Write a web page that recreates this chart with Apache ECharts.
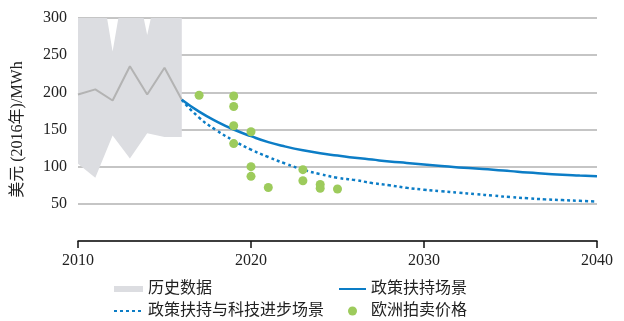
<!DOCTYPE html>
<html>
<head>
<meta charset="utf-8">
<script src="https://cdn.jsdelivr.net/npm/echarts@6/dist/echarts.min.js"></script>
<style>
  html, body { margin: 0; padding: 0; background: #fff; }
  #chart { width: 624px; height: 321px; }
</style>
</head>
<body>
<div id="chart"></div>
<script>
// Historical range (low / high) and the historical average line, 2010–2016
const histYears = [2010, 2011, 2012, 2013, 2014, 2015, 2016];
const histLow   = [104, 85, 142, 111, 145, 140, 140];
const histHigh  = [380, 395, 255, 390, 277, 385, 380];
const histMid   = [197, 204, 189, 235, 197, 233, 190];

// Scenario projections, 2016–2040
const projYears = [2016, 2017, 2018, 2019, 2020, 2021, 2022, 2023, 2024, 2025, 2026, 2027, 2028,
                   2029, 2030, 2031, 2032, 2033, 2034, 2035, 2036, 2037, 2038, 2039, 2040];
const policyOnly = [190, 174, 161, 150, 141, 133, 127, 122, 118, 115, 112, 109.5, 107,
                    105, 103, 101, 99, 97.5, 96, 94, 92, 90.5, 89, 88, 87];
const policyTech = [190, 166, 149, 135, 123, 113, 104, 96, 90, 85, 82, 78, 75,
                    71.5, 69, 67, 65, 63, 61, 59, 57.5, 56, 55, 54, 53];

// European auction results [year, price]
const auctionYears  = [2017, 2019, 2019, 2019, 2020, 2019, 2020, 2020, 2021, 2023, 2023, 2024, 2024, 2025];
const auctionPrices = [196, 195, 181, 155, 147, 131, 100, 87, 72, 96, 81, 76, 71, 70];

const yTicks = [0, 50, 100, 150, 200, 250, 300];

const names = {
  hist: '历史数据',
  policy: '政策扶持场景',
  tech: '政策扶持与科技进步场景',
  auction: '欧洲拍卖价格'
};

const zip = (xs, ys) => xs.map((x, i) => [x, ys[i]]);

const FONT = "'Liberation Serif', 'Noto Sans CJK SC', serif";
const BLUE = '#0c7dc6';
const GRAY_BAND = '#dcdde1';
const GREEN = '#9dcb5c';

// Band rows: [year, low, high]
const bandRows = histYears.map((y, i) => [y, histLow[i], histHigh[i]]);

function renderBand(params, api) {
  if (params.dataIndex !== 0) return null;
  const upper = bandRows.map(r => api.coord([r[0], r[2]]));
  const lower = bandRows.slice().reverse().map(r => api.coord([r[0], r[1]]));
  const cs = params.coordSys;
  return {
    type: 'polygon',
    shape: { points: upper.concat(lower) },
    style: { fill: GRAY_BAND, stroke: null },
    clipPath: {
      type: 'rect',
      shape: { x: cs.x, y: cs.y, width: cs.width, height: cs.height }
    }
  };
}

const chart = echarts.init(document.getElementById('chart'), null, { renderer: 'canvas' });

chart.setOption({
  animation: false,
  backgroundColor: '#ffffff',
  textStyle: { fontFamily: FONT },
  grid: { left: 78, right: 27, top: 18, bottom: 80, containLabel: false },
  xAxis: {
    type: 'value',
    min: 2010, max: 2040, interval: 10,
    axisLine: { show: true, lineStyle: { color: '#111', width: 1.5 } },
    axisTick: { show: true, inside: false, length: 7, lineStyle: { color: '#111', width: 1.5 } },
    axisLabel: { fontFamily: FONT, fontSize: 16, color: '#222', margin: 12, formatter: v => String(v) },
    splitLine: { show: false }
  },
  yAxis: {
    type: 'value',
    min: yTicks[0], max: yTicks[yTicks.length - 1], interval: 50,
    name: '美元 (2016年)/MWh',
    nameLocation: 'middle',
    nameRotate: 90,
    nameGap: 52,
    nameTextStyle: { fontFamily: FONT, fontSize: 16, color: '#222' },
    axisLine: { show: false },
    axisTick: { show: false },
    axisLabel: {
      fontFamily: FONT, fontSize: 16, color: '#222', margin: 11,
      formatter: v => (v === 0 ? '' : String(v))
    },
    splitLine: { show: true, lineStyle: { color: '#b2b2b2', width: 1.5 } }
  },
  legend: [
    {
      left: 113, top: 281, orient: 'vertical', padding: 0,
      itemWidth: 29, itemHeight: 6, itemGap: 6,
      textStyle: { fontFamily: FONT, fontSize: 16, color: '#222', lineHeight: 16 },
      selectedMode: false,
      data: [
        { name: names.hist, icon: 'rect', itemStyle: { color: GRAY_BAND, opacity: 1 } },
        { name: names.tech, itemStyle: { opacity: 0 } }
      ]
    },
    {
      left: 338, top: 281, orient: 'vertical', padding: 0,
      itemWidth: 27, itemHeight: 9, itemGap: 6,
      textStyle: { fontFamily: FONT, fontSize: 16, color: '#222', lineHeight: 16 },
      selectedMode: false,
      data: [
        { name: names.policy, itemStyle: { opacity: 0 } },
        { name: names.auction, icon: 'circle' }
      ]
    }
  ],
  series: [
    {
      name: names.hist,
      type: 'custom',
      renderItem: renderBand,
      itemStyle: { color: GRAY_BAND },
      encode: { x: 0, y: [1, 2] },
      data: bandRows,
      z: 1
    },
    {
      name: 'histMid',
      type: 'line',
      symbol: 'none',
      lineStyle: { color: '#b3b3b3', width: 2 },
      data: zip(histYears, histMid),
      z: 2
    },
    {
      name: names.policy,
      type: 'line',
      symbol: 'none',
      smooth: true,
      itemStyle: { color: BLUE },
      lineStyle: { color: BLUE, width: 2.5 },
      data: zip(projYears, policyOnly),
      z: 3
    },
    {
      name: names.tech,
      type: 'line',
      symbol: 'none',
      smooth: true,
      itemStyle: { color: BLUE },
      lineStyle: { color: BLUE, width: 2.5, type: [3, 3] },
      data: zip(projYears, policyTech),
      z: 3
    },
    {
      name: names.auction,
      type: 'scatter',
      symbol: 'circle',
      symbolSize: 9,
      itemStyle: { color: GREEN, opacity: 1 },
      data: zip(auctionYears, auctionPrices),
      z: 4
    }
  ]
});
</script>
</body>
</html>
